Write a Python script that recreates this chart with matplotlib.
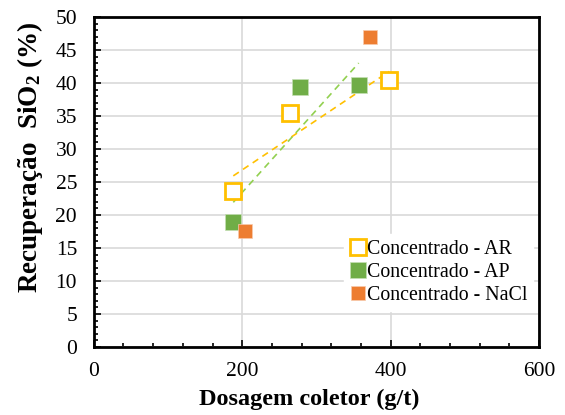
import matplotlib
matplotlib.use('Agg')
import matplotlib.pyplot as plt
import numpy as np
from matplotlib.ticker import MultipleLocator

plt.rcParams['font.family'] = ['Liberation Serif', 'DejaVu Serif']
plt.rcParams['mathtext.fontset'] = 'custom'
plt.rcParams['mathtext.rm'] = 'Liberation Serif'
plt.rcParams['mathtext.bf'] = 'Liberation Serif:bold'
plt.rcParams['mathtext.default'] = 'bf'

# dados
ar_x = [188, 265, 398]
ar_y = [23.6, 35.4, 40.4]
ap_x = [188, 278, 357]
ap_y = [19.0, 39.4, 39.7]
nacl_x = [204, 372]
nacl_y = [17.6, 46.9]

amarelo = '#FFC000'
verde = '#70AD47'
laranja = '#ED7D31'

fig = plt.figure(figsize=(5.65, 4.15), dpi=100)
ax = fig.add_axes([0.166, 0.164, 0.788, 0.795])

# linhas de tendência
for xs, ys, cor in [(ar_x, ar_y, amarelo), (ap_x, ap_y, '#92D050')]:
    a, b = np.polyfit(xs, ys, 1)
    xx = np.array([min(xs), max(xs)])
    ax.plot(xx, a * xx + b, ls=(0, (4, 3)), color=cor, lw=1.2, zorder=2)

ax.plot(ar_x, ar_y, 's', ms=11, mfc='white', mec=amarelo, mew=2, label='Concentrado - AR', zorder=3)
ax.plot(ap_x, ap_y, 's', ms=12, color=verde, mec='#C5E0B4', mew=0.5, label='Concentrado - AP', zorder=3)
ax.plot(nacl_x, nacl_y, 's', ms=10, color=laranja, mec='#F8CBAD', mew=0.5, label='Concentrado - NaCl', zorder=3)

ax.set_xlim(0, 600)
ax.set_ylim(0, 50)
ax.xaxis.set_major_locator(MultipleLocator(200))
ax.xaxis.set_minor_locator(MultipleLocator(40))
ax.yaxis.set_major_locator(MultipleLocator(5))
ax.yaxis.set_minor_locator(MultipleLocator(1))
ax.tick_params(which='both', direction='in', labelsize=15.5, width=1.2)
ax.tick_params(which='major', length=5)
ax.tick_params(which='minor', length=3)
ax.tick_params(axis='x', pad=11)
ax.tick_params(axis='y', pad=12)
ax.grid(True, color='#D9D9D9', lw=1.2)
ax.set_axisbelow(True)
for s in ax.spines.values():
    s.set_linewidth(2)

ax.set_xlabel('Dosagem coletor (g/t)', fontsize=17.5, fontweight='bold')
ax.xaxis.set_label_coords(0.485, -0.128)
ax.set_ylabel('Recuperação  SiO$_2$ (%)', fontsize=19.5, fontweight='bold')
ax.yaxis.set_label_coords(-0.11, 0.575)

leg = ax.legend(loc='lower right', bbox_to_anchor=(1.0, 0.09), fontsize=14.3, frameon=True,
                fancybox=False, edgecolor='white', framealpha=1, handlelength=0.8,
                handletextpad=0.05, borderaxespad=0.3, borderpad=0.3, labelspacing=0.2)

fig.savefig('out.png', dpi=100)
